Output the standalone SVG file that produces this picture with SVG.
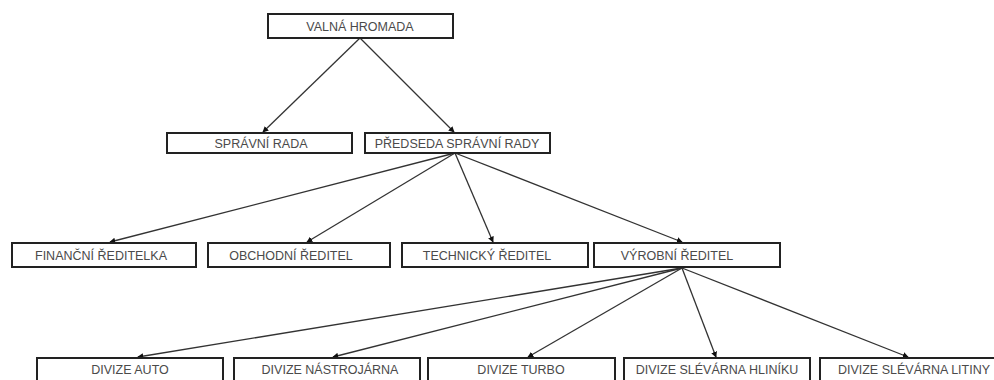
<svg xmlns="http://www.w3.org/2000/svg" width="994" height="380" viewBox="0 0 994 380">
  <style>
    .box { fill: #ffffff; stroke: #222222; stroke-width: 2; }
    .lbl { font-family: "Liberation Sans", Arial, sans-serif; font-size: 12.5px; fill: #4a4a4a; text-anchor: middle; }
    .edge { stroke: #333333; stroke-width: 1.3; fill: none; marker-end: url(#head); }
  </style>
  <defs>
    <marker id="head" viewBox="0 0 8 8" refX="7" refY="4" markerWidth="6" markerHeight="6" markerUnits="userSpaceOnUse" orient="auto">
      <path d="M0,0 L8,4 L0,8 Z" fill="#111111"/>
    </marker>
  </defs>
  <rect width="994" height="380" fill="#ffffff"/>

  <!-- connectors -->
  <g id="connectors">
    <line class="edge" x1="360" y1="38" x2="263" y2="132"/>
    <line class="edge" x1="360" y1="38" x2="454" y2="132"/>

    <line class="edge" x1="455" y1="153" x2="110" y2="242"/>
    <line class="edge" x1="455" y1="153" x2="307" y2="242"/>
    <line class="edge" x1="455" y1="153" x2="493" y2="242"/>
    <line class="edge" x1="455" y1="153" x2="682" y2="242"/>

    <line class="edge" x1="682" y1="268" x2="138" y2="357"/>
    <line class="edge" x1="682" y1="268" x2="333" y2="357"/>
    <line class="edge" x1="682" y1="268" x2="528" y2="357"/>
    <line class="edge" x1="682" y1="268" x2="716" y2="357"/>
    <line class="edge" x1="682" y1="268" x2="908" y2="357"/>
  </g>

  <!-- level 1 -->
  <g id="valna-hromada">
    <rect class="box" x="268" y="14" width="185" height="24"/>
    <text class="lbl" x="360" y="30.5">VALNÁ HROMADA</text>
  </g>

  <!-- level 2 -->
  <g id="spravni-rada">
    <rect class="box" x="167" y="133" width="185" height="20"/>
    <text class="lbl" x="261" y="147.5">SPRÁVNÍ RADA</text>
  </g>
  <g id="predseda">
    <rect class="box" x="365" y="133" width="185" height="20"/>
    <text class="lbl" x="457" y="147.5">PŘEDSEDA SPRÁVNÍ RADY</text>
  </g>

  <!-- level 3 -->
  <g id="financni">
    <rect class="box" x="12" y="243" width="184" height="24"/>
    <text class="lbl" x="101" y="259.5">FINANČNÍ ŘEDITELKA</text>
  </g>
  <g id="obchodni">
    <rect class="box" x="208" y="243" width="182" height="24"/>
    <text class="lbl" x="291" y="259.5">OBCHODNÍ ŘEDITEL</text>
  </g>
  <g id="technicky">
    <rect class="box" x="402" y="243" width="186" height="24"/>
    <text class="lbl" x="487" y="259.5">TECHNICKÝ ŘEDITEL</text>
  </g>
  <g id="vyrobni">
    <rect class="box" x="594" y="243" width="186" height="24"/>
    <text class="lbl" x="677" y="259.5">VÝROBNÍ ŘEDITEL</text>
  </g>

  <!-- level 4 -->
  <g id="divize-auto">
    <rect class="box" x="37" y="358" width="186" height="26"/>
    <text class="lbl" x="130" y="374">DIVIZE AUTO</text>
  </g>
  <g id="divize-nastrojarna">
    <rect class="box" x="234" y="358" width="186" height="26"/>
    <text class="lbl" x="330" y="374">DIVIZE NÁSTROJÁRNA</text>
  </g>
  <g id="divize-turbo">
    <rect class="box" x="428" y="358" width="187" height="26"/>
    <text class="lbl" x="521" y="374">DIVIZE TURBO</text>
  </g>
  <g id="divize-hliniku">
    <rect class="box" x="624" y="358" width="186" height="26"/>
    <text class="lbl" x="717" y="374">DIVIZE SLÉVÁRNA HLINÍKU</text>
  </g>
  <g id="divize-litiny">
    <rect class="box" x="820" y="358" width="186" height="26"/>
    <text class="lbl" x="914" y="374">DIVIZE SLÉVÁRNA LITINY</text>
  </g>
</svg>
